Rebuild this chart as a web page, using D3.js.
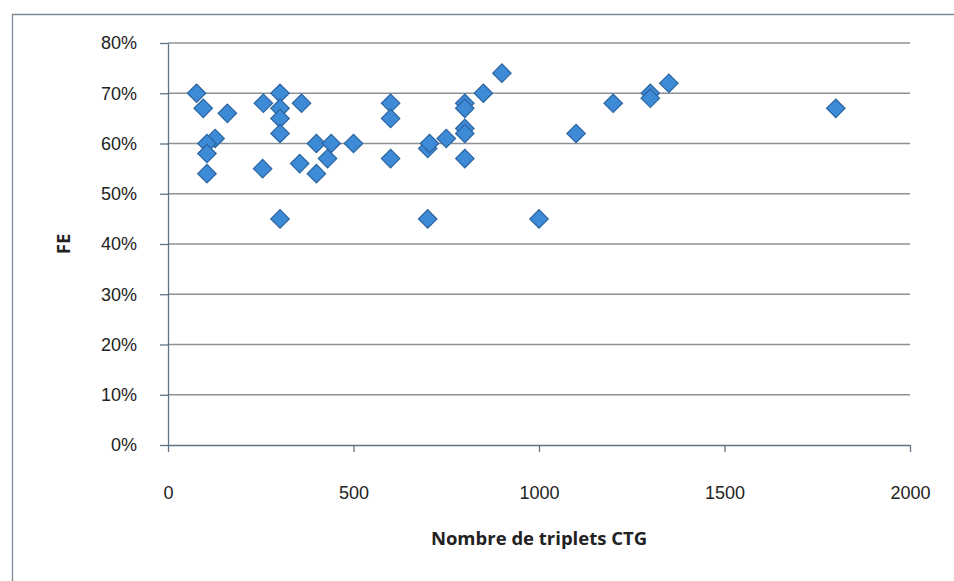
<!DOCTYPE html>
<meta charset="utf-8">
<title>FE vs triplets CTG</title>
<style>
body { margin: 0; background: #fff; }
svg { font-family: "Open Sans", "Liberation Sans", sans-serif; }
.grid line { stroke: #8c9196; stroke-width: 1.3; }
.axis path, .axis line { stroke: #5f7384; stroke-width: 1.3; }
.axis text { fill: #222; font-size: 18px; }
.title { font-size: 18.5px; font-weight: bold; fill: #222; }
</style>
<body>
<script src="https://d3js.org/d3.v7.min.js"></script>
<script>

// values: CTG triplets vs FE (%)
var triplets = [77, 95, 160, 127, 105, 105, 105, 257, 302, 302, 302, 302, 360, 255, 302,
                355, 400, 400, 440, 430, 500, 600, 600, 600, 700, 705, 750, 800, 800, 800,
                800, 800, 850, 900, 700, 1000, 1100, 1200, 1300, 1300, 1350, 1800];
var fe =       [70, 67, 66, 61, 60, 58, 54, 68, 70, 67, 65, 62, 68, 55, 45,
                56, 60, 54, 60, 57, 60, 68, 65, 57, 59, 60, 61, 68, 67, 63,
                62, 57, 70, 74, 45, 45, 62, 68, 70, 69, 72, 67];

var xTicks = [0, 500, 1000, 1500, 2000];
var yTicks = [0, 10, 20, 30, 40, 50, 60, 70, 80];

var width = 954, height = 581;
var margin = {top: 43, right: 44, bottom: 136, left: 168};

var svg = d3.select("body").append("svg")
    .attr("width", width)
    .attr("height", height);

// outer frame (only top and left edges visible in the original)
svg.append("path")
    .attr("d", "M12.5," + height + "V14.5H" + width)
    .attr("fill", "none")
    .attr("stroke", "#7d8a96")
    .attr("stroke-width", 1.3);

var x = d3.scaleLinear().domain([0, 2000]).range([margin.left, width - margin.right]);
var y = d3.scaleLinear().domain([0, 80]).range([height - margin.bottom, margin.top]);

// horizontal gridlines
svg.append("g").attr("class", "grid")
  .selectAll("line")
  .data(yTicks.filter(function(d) { return d > 0; }))
  .enter().append("line")
    .attr("x1", x(0)).attr("x2", x(2000))
    .attr("y1", function(d) { return y(d); })
    .attr("y2", function(d) { return y(d); });

// x axis
svg.append("g").attr("class", "axis")
    .attr("transform", "translate(0," + y(0) + ")")
    .call(d3.axisBottom(x).tickValues(xTicks).tickSize(7).tickSizeOuter(0).tickPadding(34)
      .tickFormat(d3.format("d")));

// y axis
svg.append("g").attr("class", "axis")
    .attr("transform", "translate(" + x(0) + ",0)")
    .call(d3.axisLeft(y).tickValues(yTicks).tickSize(8).tickSizeOuter(0).tickPadding(23)
      .tickFormat(function(d) { return d + "%"; }));

svg.append("text").attr("class", "title")
    .attr("x", (x(0) + x(2000)) / 2)
    .attr("y", 545)
    .attr("text-anchor", "middle")
    .text("Nombre de triplets CTG");

svg.append("text").attr("class", "title")
    .attr("transform", "translate(64," + y(40) + ") rotate(-90)")
    .attr("text-anchor", "middle")
    .attr("dy", "0.35em")
    .text("FE");

// diamond markers
var diamond = d3.symbol().type(d3.symbolSquare).size(170);
svg.append("g")
  .selectAll("path")
  .data(triplets.map(function(t, i) { return [t, fe[i]]; }))
  .enter().append("path")
    .attr("d", diamond)
    .attr("transform", function(d) { return "translate(" + x(d[0]) + "," + y(d[1]) + ") rotate(45)"; })
    .attr("fill", "#3d8ad7")
    .attr("stroke", "#2c649f")
    .attr("stroke-width", 1.2);

</script>
</body>
